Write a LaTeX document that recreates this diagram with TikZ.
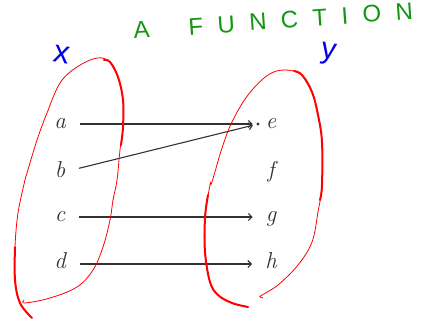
\documentclass[tikz,border=0pt]{standalone}
\usepackage{fontspec}
\newfontfamily\handfont{Liberation Sans}
\usepackage{xcolor}
\usetikzlibrary{arrows.meta}
\definecolor{inkgray}{RGB}{50,50,50}
\definecolor{penred}{RGB}{255,0,0}
\definecolor{pengreen}{RGB}{20,150,20}
\definecolor{penblue}{RGB}{0,0,235}

\begin{document}
\begin{tikzpicture}[x=1pt, y=-1pt,
    letter/.style={inner sep=0pt, text height=14pt, text depth=6pt,
      font=\itshape\fontsize{23}{25}\selectfont, text=inkgray},
    map/.style={draw=inkgray, line width=1.1pt,
      -{Straight Barb[length=3.5pt, width=7pt]},
      shorten <=14pt, shorten >=13pt},
    thinpen/.style={draw=penred, line width=0.8pt, line cap=round},
    thickpen/.style={draw=penred, line width=2pt, line cap=round},
    scrawl/.style={font=\handfont\fontsize{24}{26}\selectfont}
]
\useasboundingbox (0,0) rectangle (430,326);

% the two sets
\node[letter] (a) at (60,124) {a};
\node[letter] (b) at (60,173) {b};
\node[letter] (c) at (60,217) {c};
\node[letter] (d) at (60,264) {d};
\node[letter] (e) at (271,124) {e};
\node[letter] (f) at (271,173) {f};
\node[letter] (g) at (271,217) {g};
\node[letter] (h) at (271,264) {h};
\node[circle, fill=inkgray, inner sep=0pt, minimum size=3.2pt] (edot) at (258,124) {};

% the mapping
\draw[map, shorten >=3.5pt] (a) -- (edot);
\draw[map, shorten >=3.5pt] (b) -- (edot);
\draw[map] (c) -- (g);
\draw[map] (d) -- (h);

% hand-drawn loops
\draw[thinpen] plot[smooth, tension=0.6] coordinates {(32,318) (20,303) (15,280) (15,247)
  (18,213) (25,180) (27,173) (37,140) (47,113) (60,83) (77,67) (97,58) (110,62) (118,77)
  (123,100) (123,127) (120,150) (117,180) (113,200) (110,220) (103,247) (93,270) (77,287)
  (50,298) (25,303) (24,300)};
\draw[thickpen] plot[smooth, tension=0.6] coordinates {(32,318) (20,303) (15,280) (15,247)};
\draw[thickpen] plot[smooth, tension=0.6] coordinates {(104,60) (110,62) (118,77)
  (123,100) (123,127) (121,145)};

\draw[thinpen] plot[smooth, tension=0.6] coordinates {(248,307) (232,303) (218,295) (210,282)
  (205,252) (205,218) (210,185) (212,182) (222,148) (232,122) (248,95) (268,75) (285,70)
  (302,75) (312,92) (318,115) (322,142) (322,185) (318,212) (312,242) (298,265) (278,285)
  (262,295) (260,297) (263,298)};
\draw[thickpen] plot[smooth, tension=0.6] coordinates {(248,307) (232,303) (218,295) (210,282)
  (205,252) (205,218) (208,195)};
\draw[thickpen] plot[smooth, tension=0.6] coordinates {(294,71) (302,75) (312,92) (318,115)
  (322,142) (322,185) (320,200)};

% handwritten labels
\node[scrawl, text=pengreen, rotate=4, anchor=base west, inner sep=0pt] (title)
  at (134,39) {\addfontfeature{LetterSpace=60}A\hspace{18pt} FUNCTION};
\node[scrawl, text=penblue, font=\handfont\fontsize{32}{34}\selectfont, rotate=-10,
  inner sep=0pt] (xset) at (62,55) {x};
\node[scrawl, text=penblue, font=\handfont\fontsize{30}{32}\selectfont, rotate=-10,
  inner sep=0pt] (yset) at (328,54) {y};
\end{tikzpicture}
\end{document}
